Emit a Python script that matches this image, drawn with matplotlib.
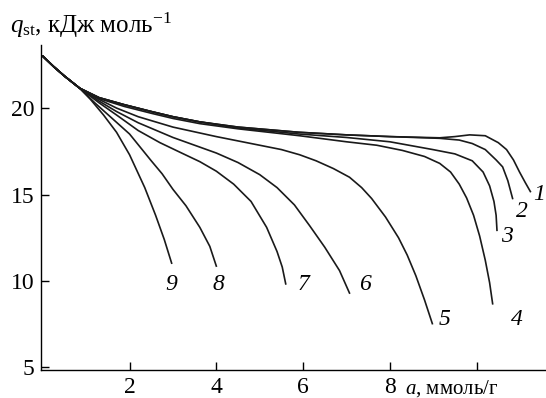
import matplotlib
matplotlib.use("Agg")
import matplotlib.pyplot as plt

plt.rcParams["font.family"] = "Liberation Serif"
plt.rcParams["mathtext.fontset"] = "custom"
plt.rcParams["mathtext.rm"] = "Liberation Serif"
plt.rcParams["mathtext.it"] = "Liberation Serif:italic"

# a, mmol/g  vs  q_st, kJ/mol
common_a = [0.0, 0.25, 0.5, 0.85]
common_q = [23.0, 22.4, 21.85, 21.15]

a1 = [1.3, 1.87, 2.5, 3.0, 3.62, 4.5, 5.9, 7.0, 8.0, 9.15, 9.5, 9.84, 10.2, 10.5, 10.69, 10.85, 10.99, 11.12, 11.24]
q1 = [20.6, 20.2, 19.8, 19.5, 19.2, 18.9, 18.6, 18.45, 18.35, 18.28, 18.35, 18.45, 18.4, 18.0, 17.6, 17.0, 16.3, 15.7, 15.17]
a2 = [1.3, 1.87, 2.5, 3.0, 3.62, 4.5, 5.9, 7.0, 8.0, 9.15, 9.6, 9.9, 10.2, 10.45, 10.6, 10.72, 10.83]
q2 = [20.6, 20.2, 19.8, 19.5, 19.2, 18.9, 18.6, 18.45, 18.35, 18.25, 18.15, 17.95, 17.6, 17.0, 16.6, 15.8, 14.77]
a3 = [1.3, 1.87, 2.5, 3.0, 3.62, 4.5, 5.9, 7.0, 8.0, 8.99, 9.5, 9.9, 10.15, 10.3, 10.4, 10.45, 10.47]
q3 = [20.6, 20.2, 19.8, 19.5, 19.2, 18.85, 18.5, 18.3, 18.05, 17.6, 17.35, 16.95, 16.3, 15.5, 14.6, 13.8, 12.93]
a4 = [1.3, 1.87, 2.5, 3.0, 3.62, 4.5, 5.92, 7.0, 7.7, 8.29, 8.8, 9.15, 9.4, 9.6, 9.77, 9.93, 10.07, 10.2, 10.3, 10.37]
q4 = [20.55, 20.1, 19.7, 19.4, 19.1, 18.8, 18.4, 18.05, 17.85, 17.55, 17.2, 16.8, 16.3, 15.6, 14.8, 13.8, 12.6, 11.2, 9.9, 8.68]
a5 = [1.3, 1.7, 2.2, 3.0, 4.0, 5.0, 5.5, 5.92, 6.3, 6.7, 7.07, 7.35, 7.58, 7.9, 8.2, 8.4, 8.6, 8.8, 8.98]
q5 = [20.5, 20.0, 19.5, 18.9, 18.35, 17.85, 17.6, 17.3, 16.95, 16.5, 16.0, 15.4, 14.77, 13.7, 12.5, 11.5, 10.3, 8.9, 7.53]
a6 = [1.3, 1.7, 2.2, 3.0, 3.5, 4.0, 4.5, 5.0, 5.4, 5.8, 6.15, 6.5, 6.84, 7.07]
q6 = [20.4, 19.8, 19.15, 18.3, 17.85, 17.4, 16.85, 16.15, 15.4, 14.4, 13.2, 11.95, 10.6, 9.3]
a7 = [1.3, 1.7, 2.2, 2.7, 3.2, 3.62, 4.0, 4.4, 4.8, 5.16, 5.4, 5.52, 5.6]
q7 = [20.3, 19.6, 18.7, 18.0, 17.4, 16.9, 16.35, 15.6, 14.6, 13.1, 11.7, 10.8, 9.83]
a8 = [1.2, 1.6, 2.0, 2.5, 2.75, 3.0, 3.3, 3.62, 3.85, 4.0]
q8 = [20.3, 19.4, 18.5, 16.95, 16.2, 15.3, 14.35, 13.1, 12.0, 10.86]
a9 = [1.1, 1.4, 1.7, 2.0, 2.35, 2.6, 2.8, 2.97]
q9 = [20.5, 19.6, 18.6, 17.3, 15.4, 13.8, 12.4, 11.03]

curves_a = [a1, a2, a3, a4, a5, a6, a7, a8, a9]
curves_q = [q1, q2, q3, q4, q5, q6, q7, q8, q9]
curve_labels = ["1", "2", "3", "4", "5", "6", "7", "8", "9"]
label_a = [11.45, 11.04, 10.69, 10.92, 9.26, 7.42, 6.01, 4.06, 2.97]
label_q = [15.0, 14.0, 12.55, 7.75, 7.75, 9.77, 9.77, 9.77, 9.77]

fig = plt.figure(figsize=(5.46, 3.98), dpi=100)
ax = fig.add_axes([0.076, 0.0704, 0.924, 0.8166])

for xs, ys in zip(curves_a, curves_q):
    ax.plot(common_a + xs, common_q + ys, color="#1a1a1a", lw=1.2)

for t, x, y in zip(curve_labels, label_a, label_q):
    ax.text(x, y, t, fontsize=17, style="italic", ha="center", va="center")

ax.set_xlim(-0.03, 11.6)
ax.set_ylim(4.85, 23.65)
ax.set_xticks([2, 4, 6, 8, 10])
ax.set_xticklabels(["2", "4", "6", "8", ""])
ax.set_yticks([5, 10, 15, 20])
ax.tick_params(direction="in", length=6, width=1, labelsize=17, pad=5)
for s in ["top", "right"]:
    ax.spines[s].set_visible(False)
for s in ["left", "bottom"]:
    ax.spines[s].set_linewidth(1)

fig.text(10 / 546, 1 - 33 / 398, r"$q_{\mathrm{st}}$, кДж моль$^{-1}$", fontsize=18, ha="left", va="baseline")
fig.text(405 / 546, 1 - 394 / 398, r"$a$, ммоль/г", fontsize=15, ha="left", va="baseline")

fig.savefig("out.png", dpi=100)
